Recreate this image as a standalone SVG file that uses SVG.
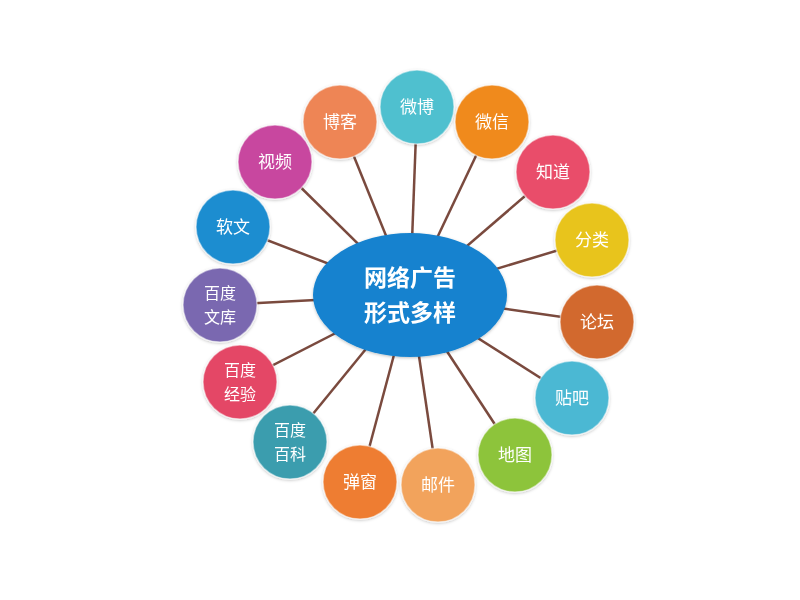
<svg xmlns="http://www.w3.org/2000/svg" width="800" height="600" viewBox="0 0 800 600">
<style>
.c{stroke:#ffffff;stroke-opacity:0.5;stroke-width:1.5}
.t{font-family:"Noto Sans CJK SC","Noto Sans CJK JP",sans-serif;font-size:17px;fill:#ffffff;text-anchor:middle}
.t2{font-family:"Noto Sans CJK SC","Noto Sans CJK JP",sans-serif;font-size:16px;fill:#ffffff;text-anchor:middle}
.ct{font-family:"Noto Sans CJK SC","Noto Sans CJK JP",sans-serif;font-size:23px;font-weight:bold;fill:#ffffff;text-anchor:middle}
.l{stroke:#7a4a3e;stroke-width:2.5}
</style>
<defs>
<filter id="sh" x="-20%" y="-20%" width="140%" height="140%">
<feDropShadow dx="0" dy="1" stdDeviation="1.5" flood-color="#000" flood-opacity="0.25"/>
</filter>
</defs>
<rect width="800" height="600" fill="#ffffff"/>
<g id="connectors">
<line class="l" x1="410" y1="295" x2="340" y2="122"/>
<line class="l" x1="410" y1="295" x2="417" y2="107"/>
<line class="l" x1="410" y1="295" x2="492" y2="122"/>
<line class="l" x1="410" y1="295" x2="275" y2="162"/>
<line class="l" x1="410" y1="295" x2="553" y2="172"/>
<line class="l" x1="410" y1="295" x2="233" y2="227"/>
<line class="l" x1="410" y1="295" x2="592" y2="240"/>
<line class="l" x1="410" y1="295" x2="220" y2="305"/>
<line class="l" x1="410" y1="295" x2="597" y2="322"/>
<line class="l" x1="410" y1="295" x2="240" y2="382"/>
<line class="l" x1="410" y1="295" x2="572" y2="398"/>
<line class="l" x1="410" y1="295" x2="290" y2="442"/>
<line class="l" x1="410" y1="295" x2="515" y2="455"/>
<line class="l" x1="410" y1="295" x2="360" y2="482"/>
<line class="l" x1="410" y1="295" x2="438" y2="485"/>
</g>
<g id="center" filter="url(#sh)">
<ellipse cx="410" cy="295" rx="97" ry="62" fill="#1482cf"/>
<text class="ct" x="410" y="286">网络广告</text>
<text class="ct" x="410" y="321">形式多样</text>
</g>
<g id="n-boke" filter="url(#sh)"><circle class="c" cx="340" cy="122" r="37" fill="#ee8555"/><text class="t" x="340" y="128">博客</text></g>
<g id="n-weibo" filter="url(#sh)"><circle class="c" cx="417" cy="107" r="37" fill="#4fc0cf"/><text class="t" x="417" y="113">微博</text></g>
<g id="n-weixin" filter="url(#sh)"><circle class="c" cx="492" cy="122" r="37" fill="#f08a1e"/><text class="t" x="492" y="128">微信</text></g>
<g id="n-shipin" filter="url(#sh)"><circle class="c" cx="275" cy="162" r="37" fill="#c8479f"/><text class="t" x="275" y="168">视频</text></g>
<g id="n-zhidao" filter="url(#sh)"><circle class="c" cx="553" cy="172" r="37" fill="#e94e6a"/><text class="t" x="553" y="178">知道</text></g>
<g id="n-ruanwen" filter="url(#sh)"><circle class="c" cx="233" cy="227" r="37" fill="#1c8dd0"/><text class="t" x="233" y="233">软文</text></g>
<g id="n-fenlei" filter="url(#sh)"><circle class="c" cx="592" cy="240" r="37" fill="#e8c41a"/><text class="t" x="592" y="246">分类</text></g>
<g id="n-wenku" filter="url(#sh)"><circle class="c" cx="220" cy="305" r="37" fill="#7a68b0"/><text class="t2" x="220" y="299">百度</text><text class="t2" x="220" y="323">文库</text></g>
<g id="n-luntan" filter="url(#sh)"><circle class="c" cx="597" cy="322" r="37" fill="#d2692d"/><text class="t" x="597" y="328">论坛</text></g>
<g id="n-jingyan" filter="url(#sh)"><circle class="c" cx="240" cy="382" r="37" fill="#e44766"/><text class="t2" x="240" y="376">百度</text><text class="t2" x="240" y="400">经验</text></g>
<g id="n-tieba" filter="url(#sh)"><circle class="c" cx="572" cy="398" r="37" fill="#4bb8d3"/><text class="t" x="572" y="404">贴吧</text></g>
<g id="n-baike" filter="url(#sh)"><circle class="c" cx="290" cy="442" r="37" fill="#3a9dae"/><text class="t2" x="290" y="436">百度</text><text class="t2" x="290" y="460">百科</text></g>
<g id="n-ditu" filter="url(#sh)"><circle class="c" cx="515" cy="455" r="37" fill="#8dc43a"/><text class="t" x="515" y="461">地图</text></g>
<g id="n-tanchuang" filter="url(#sh)"><circle class="c" cx="360" cy="482" r="37" fill="#ee7d30"/><text class="t" x="360" y="488">弹窗</text></g>
<g id="n-youjian" filter="url(#sh)"><circle class="c" cx="438" cy="485" r="37" fill="#f2a35c"/><text class="t" x="438" y="491">邮件</text></g>
</svg>
